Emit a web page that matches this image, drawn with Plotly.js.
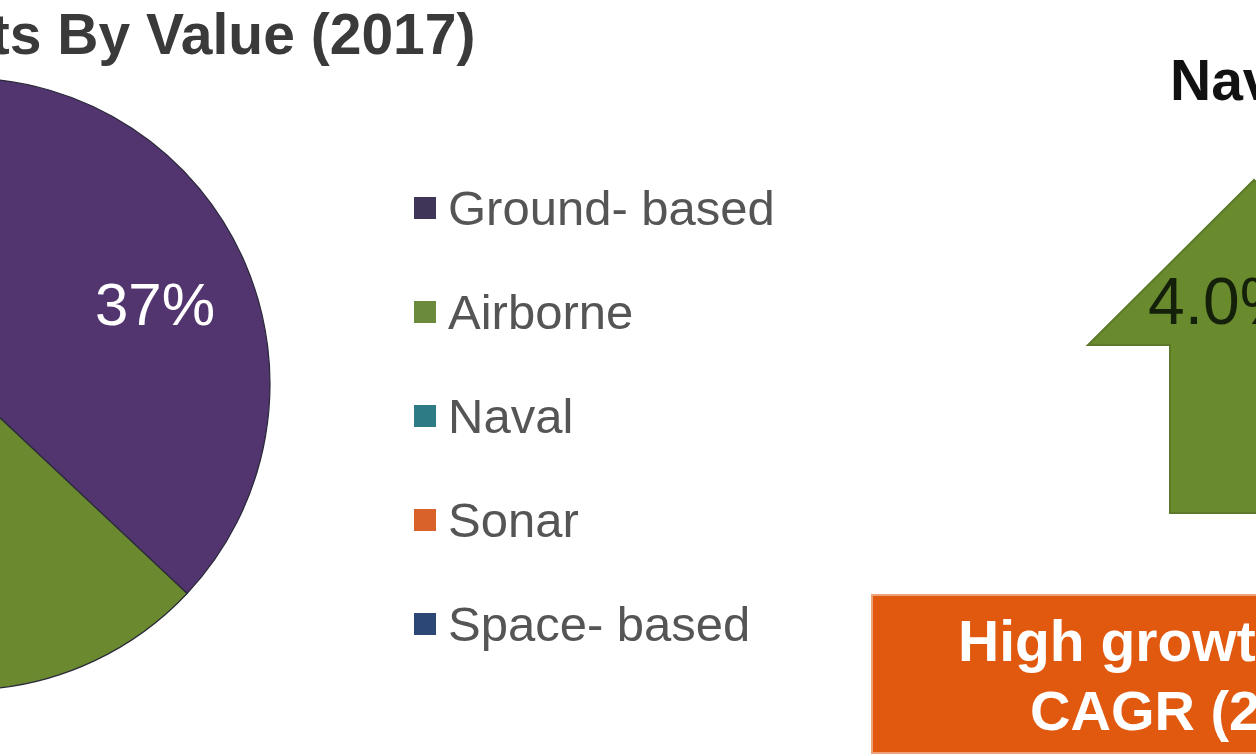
<!DOCTYPE html>
<html>
<head>
<meta charset="utf-8">
<script src="https://cdn.plot.ly/plotly-3.0.1.min.js"></script>
<style>
  html, body { margin:0; padding:0; width:1256px; height:756px; overflow:hidden; background:#ffffff; }
  #chart { position:absolute; left:-400px; top:0; width:1656px; height:756px; }
</style>
</head>
<body>
<div id="chart"></div>
<script>
// ---- data ----
const categories = ['Ground- based', 'Airborne', 'Naval', 'Sonar', 'Space- based'];
const shares = [37, 25, 18, 12, 8];
const sliceColors = ['#52346f', '#6b8a2f', '#2d7b84', '#d9622b', '#2c4676'];
const legendColors = ['#3f3558', '#6b8a3c', '#2d7b84', '#d9622b', '#2c4676'];
const titleText = 'Segments By Value (2017)';
const arrowTitle = 'Naval';
const arrowValue = '4.0%';
const boxLine1 = 'High growth market';
const boxLine2 = 'CAGR (2017-2022)';

// ---- layout helpers (page pixels -> paper coords) ----
const W = 1656, H = 756, OFF = 400;
const px = x => (x + OFF) / W;
const py = y => 1 - y / H;
const FONT = 'Arial, "Liberation Sans", sans-serif';

const cx = -36, cy = 384, R = 306;

const pie = {
  type: 'pie',
  labels: categories,
  values: shares,
  sort: false,
  direction: 'clockwise',
  rotation: 0,
  marker: { colors: sliceColors, line: { color: '#2a2a3a', width: 1.2 } },
  textinfo: 'none',
  domain: { x: [px(cx - R), px(cx + R)], y: [py(cy + R), py(cy - R)] },
  showlegend: false,
  hoverinfo: 'none'
};

const shapes = [];
const annotations = [];

// percentage label of the first slice (computed from the data)
const total = shares.reduce((a, b) => a + b, 0);
annotations.push({ xref: 'paper', yref: 'paper', x: px(155), y: py(304),
  xanchor: 'center', yanchor: 'middle', showarrow: false,
  text: Math.round(shares[0] / total * 100) + '%',
  font: { family: FONT, size: 60, color: '#ffffff' } });

// manual legend
const legY0 = 208, legStep = 104;
categories.forEach((c, i) => {
  const y = legY0 + i * legStep;
  shapes.push({ type: 'rect', xref: 'paper', yref: 'paper',
    x0: px(414), x1: px(436), y0: py(y + 11), y1: py(y - 11),
    fillcolor: legendColors[i], line: { width: 0 } });
  annotations.push({ xref: 'paper', yref: 'paper', x: px(446), y: py(y),
    xanchor: 'left', yanchor: 'middle', showarrow: false, text: c,
    font: { family: FONT, size: 49, color: '#555555' } });
});

// title
annotations.push({ xref: 'paper', yref: 'paper', x: px(478), y: py(34),
  xanchor: 'right', yanchor: 'middle', showarrow: false, text: '<b>' + titleText + '</b>',
  font: { family: FONT, size: 57, color: '#3a3a3a' } });

// green up arrow
const ap = [[1170, 513], [1170, 345], [1088, 345], [1254, 180], [1420, 345], [1338, 345], [1338, 513]];
shapes.push({ type: 'path', xref: 'paper', yref: 'paper',
  path: 'M' + ap.map(p => px(p[0]) + ',' + py(p[1])).join(' L') + ' Z',
  fillcolor: '#6a8a2e', line: { color: '#5d7a2a', width: 2 } });

annotations.push({ xref: 'paper', yref: 'paper', x: px(1168), y: py(80),
  xanchor: 'left', yanchor: 'middle', showarrow: false, text: '<b>' + arrowTitle + '</b>',
  font: { family: FONT, size: 57, color: '#111111' } });
annotations.push({ xref: 'paper', yref: 'paper', x: px(1146), y: py(301),
  xanchor: 'left', yanchor: 'middle', showarrow: false, text: arrowValue,
  font: { family: FONT, size: 66, color: '#14200a' } });

// orange box
shapes.push({ type: 'rect', xref: 'paper', yref: 'paper',
  x0: px(872), x1: px(1500), y0: py(753), y1: py(595),
  fillcolor: '#e0590f', line: { color: '#eea27a', width: 2 } });
annotations.push({ xref: 'paper', yref: 'paper', x: px(956), y: py(641),
  xanchor: 'left', yanchor: 'middle', showarrow: false, text: '<b>' + boxLine1 + '</b>',
  font: { family: FONT, size: 57, color: '#ffffff' } });
annotations.push({ xref: 'paper', yref: 'paper', x: px(1028), y: py(710),
  xanchor: 'left', yanchor: 'middle', showarrow: false, text: '<b>' + boxLine2 + '</b>',
  font: { family: FONT, size: 56, color: '#ffffff' } });

const layout = {
  width: W, height: H,
  margin: { l: 0, r: 0, t: 0, b: 0, pad: 0 },
  paper_bgcolor: '#ffffff',
  showlegend: false,
  shapes: shapes,
  annotations: annotations
};

Plotly.newPlot('chart', [pie], layout, { displayModeBar: false, staticPlot: true });
</script>
</body>
</html>
